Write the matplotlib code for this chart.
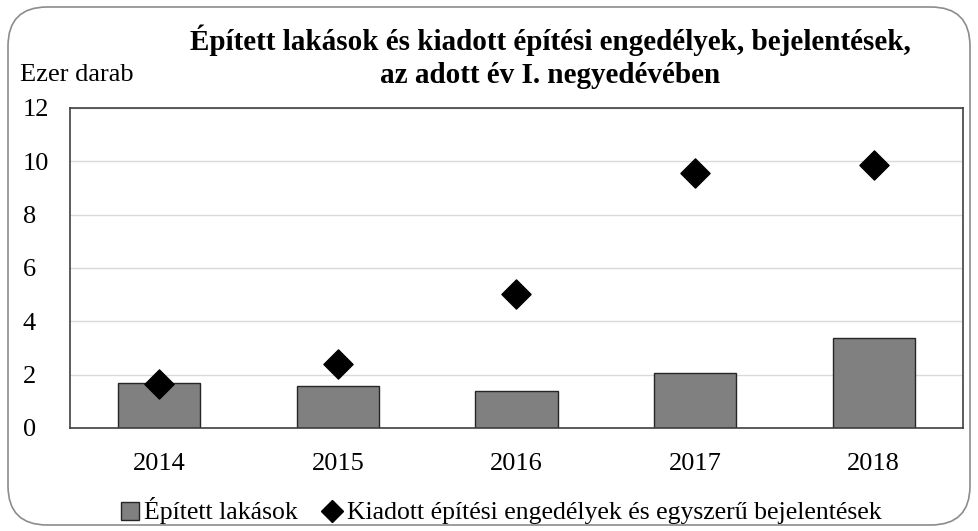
import matplotlib.pyplot as plt
import numpy as np
from matplotlib.patches import FancyBboxPatch
from matplotlib.lines import Line2D
from matplotlib.patches import Patch

years = ['2014', '2015', '2016', '2017', '2018']
built = [1.69, 1.57, 1.39, 2.06, 3.37]
permits = [1.65, 2.40, 5.03, 9.55, 9.87]

plt.rcParams['font.family'] = ['Liberation Serif', 'DejaVu Serif']

W, H = 979, 531
fig = plt.figure(figsize=(W / 100, H / 100), dpi=100)

# rounded outer frame
frame = FancyBboxPatch((8 / W, 6 / H), 962 / W, 518 / H,
                       boxstyle='round,pad=0,rounding_size=0.04',
                       transform=fig.transFigure, fill=False,
                       edgecolor='#8c8c8c', linewidth=1.2, mutation_aspect=W / H)
fig.patches.append(frame)

ax = fig.add_axes([70 / W, (H - 428) / H, (963 - 70) / W, (428 - 108) / H])
x = np.arange(len(years))
ax.bar(x, built, width=0.46, color='#808080', edgecolor='#262626', linewidth=1, zorder=2)
ax.scatter(x, permits, marker='D', s=220, color='black', zorder=3)

ax.set_xlim(-0.5, len(years) - 0.5)
ax.set_ylim(0, 12)
ax.set_yticks(range(0, 13, 2))
ax.set_xticks(x)
ax.set_xticklabels(years)
ax.tick_params(axis='both', length=0, labelsize=19)
ax.tick_params(axis='y', pad=34)
ax.tick_params(axis='x', pad=18)
for lab in ax.get_yticklabels():
    lab.set_horizontalalignment('left')
ax.grid(axis='y', color='#d9d9d9', linewidth=1, zorder=0)
ax.set_axisbelow(True)
for s in ax.spines.values():
    s.set_color('#404040')
    s.set_linewidth(1.2)

fig.text(550 / W, 1 - 57 / H, 'Épített lakások és kiadott építési engedélyek, bejelentések,\naz adott év I. negyedévében',
         ha='center', va='center', fontsize=21, fontweight='bold', linespacing=1.3)
fig.text(20 / W, 1 - 75 / H, 'Ezer darab', ha='left', va='center', fontsize=19)

handles = [Patch(facecolor='#808080', edgecolor='#262626'),
           Line2D([], [], marker='D', color='black', linestyle='none', markersize=11)]
fig.legend(handles, ['Épített lakások', 'Kiadott építési engedélyek és egyszerű bejelentések'],
           loc='center', bbox_to_anchor=(501 / W, 1 - 511 / H), ncol=2, frameon=False,
           fontsize=18.5, handlelength=0.7, handleheight=0.7, handletextpad=0.2, columnspacing=1.0)

fig.savefig('out.png', dpi=100)
